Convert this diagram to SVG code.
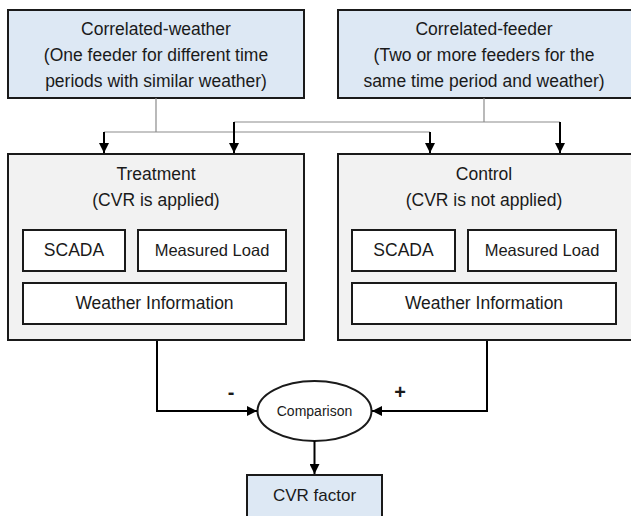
<svg xmlns="http://www.w3.org/2000/svg" width="631" height="516" viewBox="0 0 631 516">
<style>
text{font-family:"Liberation Sans",Arial,sans-serif;font-size:17.5px;fill:#1a1a1a;text-anchor:middle;dominant-baseline:central}
.blue{fill:#dde8f4;stroke:#1a1a1a;stroke-width:2}
.grey{fill:#f2f2f2;stroke:#1a1a1a;stroke-width:2}
.white{fill:#ffffff;stroke:#1a1a1a;stroke-width:2}
.thin{fill:none;stroke:#8c8c8c;stroke-width:1.2}
.arr{fill:none;stroke:#000;stroke-width:2;marker-end:url(#ah)}
.sign{font-weight:bold;font-size:20px}
.ml{font-size:16.5px}
</style>
<defs>
<marker id="ah" viewBox="0 0 10 10" refX="10" refY="5" markerWidth="5" markerHeight="5" orient="auto" markerUnits="strokeWidth">
<path d="M0,0 L10,5 L0,10 z" fill="#000"/>
</marker>
</defs>
<g id="correlated-weather">
<rect class="blue" x="8" y="10" width="296" height="88"/>
<text x="156" y="29">Correlated-weather</text>
<text x="156" y="55">(One feeder for different time</text>
<text x="156" y="81">periods with similar weather)</text>
</g>
<g id="correlated-feeder">
<rect class="blue" x="338" y="10" width="296" height="88"/>
<text x="484" y="29">Correlated-feeder</text>
<text x="484" y="55">(Two or more feeders for the</text>
<text x="484" y="81">same time period and weather)</text>
</g>
<g id="treatment">
<rect class="grey" x="8" y="154" width="296" height="186"/>
<text x="156" y="174">Treatment</text>
<text x="156" y="200">(CVR is applied)</text>
<rect class="white" x="23" y="230" width="102" height="41"/>
<text x="74" y="250">SCADA</text>
<rect class="white" x="138" y="230" width="148" height="41"/>
<text class="ml" x="212" y="250">Measured Load</text>
<rect class="white" x="23" y="283" width="263" height="41"/>
<text x="154.5" y="303">Weather Information</text>
</g>
<g id="control">
<rect class="grey" x="338" y="154" width="296" height="186"/>
<text x="484" y="174">Control</text>
<text x="484" y="200">(CVR is not applied)</text>
<rect class="white" x="352" y="230" width="103" height="41"/>
<text x="403.5" y="250">SCADA</text>
<rect class="white" x="468" y="230" width="148" height="41"/>
<text class="ml" x="542" y="250">Measured Load</text>
<rect class="white" x="352" y="283" width="264" height="41"/>
<text x="484" y="303">Weather Information</text>
</g>
<g id="comparison">
<ellipse class="white" cx="314.5" cy="411" rx="57" ry="30"/>
<text x="314.5" y="411" style="font-size:14px">Comparison</text>
</g>
<g id="cvr-factor">
<rect class="blue" x="247" y="475" width="135" height="42"/>
<text x="314.5" y="495" style="font-size:17px">CVR factor</text>
</g>
<g id="connectors">
<path class="thin" d="M156,98 V132 M104,132 H430"/>
<path class="thin" d="M484,98 V122 M234,122 H560"/>
<path class="arr" d="M104,132 V153"/>
<path class="arr" d="M430,132 V153"/>
<path class="arr" d="M234,122 V153"/>
<path class="arr" d="M560,122 V153"/>
<path class="arr" d="M157,341 V411 H257"/>
<path class="arr" d="M487,341 V411 H372"/>
<path class="arr" d="M314.5,441 V474"/>
<text class="sign" x="231" y="392">-</text>
<text class="sign" x="400" y="392">+</text>
</g>
</svg>
